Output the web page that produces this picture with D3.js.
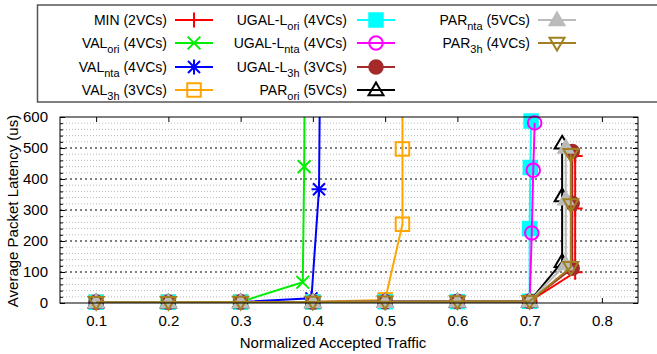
<!DOCTYPE html>
<html>
<head>
<meta charset="utf-8">
<script src="https://cdn.jsdelivr.net/npm/d3@7"></script>
<style>
  body { margin: 0; background: #fff; }
  svg { font-family: "Liberation Sans", Arial, sans-serif; }
</style>
</head>
<body>
<div id="chart"></div>
<script>
// series values (load, latency in us)
const minX = [0.1, 0.2, 0.3, 0.4, 0.5, 0.6, 0.7, 0.763, 0.763, 0.763];
const minY = [2.5, 2.7, 3.0, 3.4, 3.9, 4.5, 5.5, 99, 305, 474];
const valOriX = [0.1, 0.2, 0.3, 0.386, 0.388, 0.389];
const valOriY = [3, 3.2, 4, 67, 440, 900];
const valNtaX = [0.1, 0.2, 0.3, 0.398, 0.4085, 0.4105];
const valNtaY = [2.8, 3, 3.5, 15, 367, 900];
const val3hX = [0.1, 0.2, 0.3, 0.4, 0.5, 0.524, 0.524, 0.524];
const val3hY = [2.8, 3, 3.3, 3.8, 10, 254, 497, 900];
const ugalOriX = [0.1, 0.2, 0.3, 0.4, 0.5, 0.6, 0.7, 0.7, 0.701, 0.702];
const ugalOriY = [2.5, 2.7, 3.0, 3.4, 3.9, 4.5, 5.5, 240, 437, 587];
const ugalNtaX = [0.1, 0.2, 0.3, 0.4, 0.5, 0.6, 0.7, 0.703, 0.705, 0.707];
const ugalNtaY = [2.5, 2.7, 3.0, 3.4, 3.9, 4.5, 5.5, 226, 428, 581];
const ugal3hX = [0.1, 0.2, 0.3, 0.4, 0.5, 0.6, 0.7, 0.759, 0.759, 0.759];
const ugal3hY = [2.5, 2.7, 3.0, 3.4, 3.9, 4.5, 5.5, 112, 322, 489];
const parOriX = [0.1, 0.2, 0.3, 0.4, 0.5, 0.6, 0.7, 0.745, 0.745, 0.745];
const parOriY = [2.5, 2.7, 3.0, 3.4, 3.9, 4.5, 5.5, 133, 345, 515];
const parNtaX = [0.1, 0.2, 0.3, 0.4, 0.5, 0.6, 0.7, 0.75, 0.75, 0.75];
const parNtaY = [2.5, 2.7, 3.0, 3.4, 3.9, 4.5, 5.5, 125, 335, 502];
const par3hX = [0.1, 0.2, 0.3, 0.4, 0.5, 0.6, 0.7, 0.757, 0.757, 0.757];
const par3hY = [2.5, 2.7, 3.0, 3.4, 3.9, 4.5, 5.5, 115, 318, 480];

// legend labels: [name, subscript, suffix]
const labels = [
  ['MIN', '', ' (2VCs)'],
  ['VAL', 'ori', ' (4VCs)'],
  ['VAL', 'nta', ' (4VCs)'],
  ['VAL', '3h', ' (3VCs)'],
  ['UGAL-L', 'ori', ' (4VCs)'],
  ['UGAL-L', 'nta', ' (4VCs)'],
  ['UGAL-L', '3h', ' (3VCs)'],
  ['PAR', 'ori', ' (5VCs)'],
  ['PAR', 'nta', ' (5VCs)'],
  ['PAR', '3h', ' (4VCs)']
];
const xTicks = [0.1, 0.2, 0.3, 0.4, 0.5, 0.6, 0.7, 0.8];
const yTicks = [0, 100, 200, 300, 400, 500, 600];
const yMinorTicks = d3.range(0, 601, 20).filter(v => v % 100 !== 0);

const xs = [minX, valOriX, valNtaX, val3hX, ugalOriX, ugalNtaX, ugal3hX, parOriX, parNtaX, par3hX];
const ys = [minY, valOriY, valNtaY, val3hY, ugalOriY, ugalNtaY, ugal3hY, parOriY, parNtaY, par3hY];
const colors = ['#ff0000', '#00ee00', '#0000ff', '#ffa500', '#00ffff', '#ff00ff', '#a52a2a', '#000000', '#bbbbbb', '#a08020'];
const shapes = ['plus', 'cross', 'star', 'square', 'fsquare', 'circle', 'fcircle', 'tri', 'ftri', 'itri'];

const W = 657, H = 354;
const margin = { top: 117, right: 19, bottom: 51, left: 60 };
const width = W - margin.left - margin.right;
const height = H - margin.top - margin.bottom;

const svg = d3.select('#chart').append('svg').attr('width', W).attr('height', H);
const x = d3.scaleLinear().domain([0.05, 0.85]).range([0, width]);
const y = d3.scaleLinear().domain([0, 600]).range([height, 0]);

const g = svg.append('g').attr('transform', `translate(${margin.left},${margin.top})`);

svg.append('defs').append('clipPath').attr('id', 'clip')
  .append('rect').attr('width', width).attr('height', height);

// grid
g.selectAll('.minor').data(yMinorTicks).enter().append('line')
  .attr('x1', 0).attr('x2', width).attr('y1', d => y(d)).attr('y2', d => y(d))
  .attr('stroke', '#bbb').attr('stroke-width', 1).attr('stroke-dasharray', '1,2');
g.selectAll('.major').data(yTicks.slice(1, -1)).enter().append('line')
  .attr('x1', 0).attr('x2', width).attr('y1', d => y(d)).attr('y2', d => y(d))
  .attr('stroke', '#000').attr('stroke-width', 1).attr('stroke-dasharray', '2,3');

// axes (gnuplot style: inward ticks, mirrored)
const axisStyle = sel => {
  sel.select('.domain').remove();
  sel.selectAll('text').attr('font-size', 15).attr('fill', '#000')
    .attr('font-family', '"Liberation Sans", Arial, sans-serif');
};
g.append('g').attr('transform', `translate(0,${height})`)
  .call(d3.axisBottom(x).tickValues(xTicks).tickFormat(d3.format('.1f')).tickSizeInner(-5).tickPadding(12))
  .call(axisStyle);
g.append('g')
  .call(d3.axisTop(x).tickValues(xTicks).tickFormat('').tickSizeInner(-5))
  .call(axisStyle);
g.append('g')
  .call(d3.axisLeft(y).tickValues(yTicks).tickSizeInner(-5).tickPadding(12))
  .call(axisStyle);
g.append('g')
  .call(d3.axisLeft(y).tickValues(yMinorTicks).tickFormat('').tickSizeInner(-3))
  .call(axisStyle);
g.append('g').attr('transform', `translate(${width},0)`)
  .call(d3.axisRight(y).tickValues(yTicks).tickFormat('').tickSizeInner(-5))
  .call(axisStyle);
g.append('g').attr('transform', `translate(${width},0)`)
  .call(d3.axisRight(y).tickValues(yMinorTicks).tickFormat('').tickSizeInner(-3))
  .call(axisStyle);

// marker drawing
function marker(sel, shape, color, s) {
  const h = s / 2;
  if (shape === 'plus' || shape === 'star') {
    sel.append('path').attr('d', `M${-h},0H${h}M0,${-h}V${h}`).attr('stroke', color).attr('stroke-width', 2);
  }
  if (shape === 'cross' || shape === 'star') {
    const k = shape === 'star' ? h * 0.8 : h * 0.85;
    sel.append('path').attr('d', `M${-k},${-k}L${k},${k}M${-k},${k}L${k},${-k}`).attr('stroke', color).attr('stroke-width', 2);
  }
  if (shape === 'square' || shape === 'fsquare') {
    const q = h * 0.9;
    sel.append('rect').attr('x', -q).attr('y', -q).attr('width', 2 * q).attr('height', 2 * q)
      .attr('fill', shape === 'fsquare' ? color : 'none').attr('stroke', color).attr('stroke-width', 2);
  }
  if (shape === 'circle' || shape === 'fcircle') {
    sel.append('circle').attr('r', h * 0.9)
      .attr('fill', shape === 'fcircle' ? color : 'none').attr('stroke', color).attr('stroke-width', 2);
  }
  if (shape === 'tri' || shape === 'ftri') {
    sel.append('path').attr('d', `M0,${-h}L${h},${h * 0.7}L${-h},${h * 0.7}Z`)
      .attr('fill', shape === 'ftri' ? color : 'none').attr('stroke', color).attr('stroke-width', 2);
  }
  if (shape === 'itri') {
    sel.append('path').attr('d', `M0,${h}L${h},${-h * 0.7}L${-h},${-h * 0.7}Z`)
      .attr('fill', 'none').attr('stroke', color).attr('stroke-width', 2);
  }
}

const line = d3.line().x(d => x(d[0])).y(d => y(d[1]));
xs.forEach((xv, i) => {
  const pts = xv.map((v, j) => [v, ys[i][j]]);
  const sg = g.append('g');
  sg.append('path').datum(pts).attr('d', line).attr('clip-path', 'url(#clip)')
    .attr('fill', 'none').attr('stroke', colors[i]).attr('stroke-width', 2);
  pts.filter(p => p[1] <= 600).forEach(p => {
    const m = sg.append('g').attr('transform', `translate(${x(p[0])},${y(p[1])})`);
    marker(m, shapes[i], colors[i], 15);
  });
});

// frame
g.append('rect').attr('width', width).attr('height', height)
  .attr('fill', 'none').attr('stroke', '#000').attr('stroke-width', 1);

// axis titles
svg.append('text').attr('x', 333).attr('y', 348).attr('text-anchor', 'middle')
  .attr('font-size', 15).text('Normalized Accepted Traffic');
svg.append('text').attr('transform', 'translate(18,211) rotate(-90)').attr('text-anchor', 'middle')
  .attr('font-size', 15).text('Average Packet Latency (us)');

// legend
svg.append('rect').attr('x', 37.5).attr('y', 5).attr('width', 640).attr('height', 97)
  .attr('fill', '#fff').attr('stroke', '#555').attr('stroke-width', 1.5);
const colText = [167, 347, 530];
const colLine = [175, 357, 538];
const rowY = [20, 43, 67, 90];
const slots = [[0, 0], [0, 1], [0, 2], [0, 3], [1, 0], [1, 1], [1, 2], [1, 3], [2, 0], [2, 1]];
labels.forEach((lab, i) => {
  const [c, r] = slots[i];
  const ty = rowY[r];
  const t = svg.append('text').attr('x', colText[c]).attr('y', ty + 5)
    .attr('text-anchor', 'end').attr('font-size', 14);
  t.append('tspan').text(lab[0]);
  if (lab[1]) t.append('tspan').attr('dy', 5).attr('font-size', 11).text(lab[1]);
  t.append('tspan').attr('dy', lab[1] ? -5 : 0).text(lab[2]);
  svg.append('line').attr('x1', colLine[c]).attr('x2', colLine[c] + 38)
    .attr('y1', ty).attr('y2', ty).attr('stroke', colors[i]).attr('stroke-width', 2);
  const m = svg.append('g').attr('transform', `translate(${colLine[c] + 19},${ty})`);
  marker(m, shapes[i], colors[i], 15);
});
</script>
</body>
</html>
